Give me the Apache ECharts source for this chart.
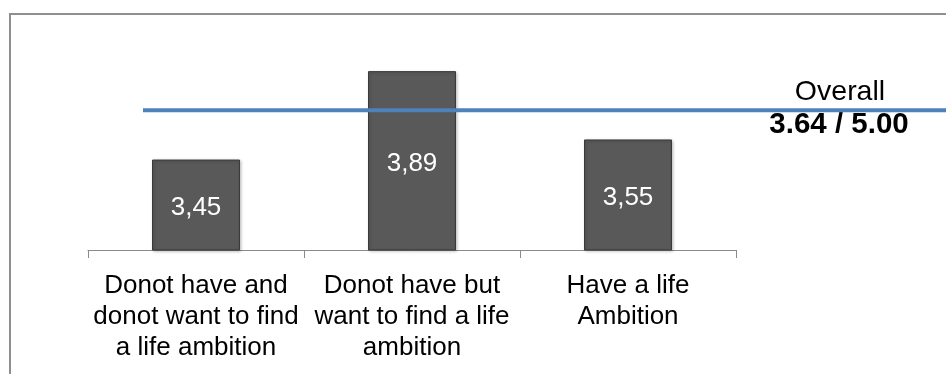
<!DOCTYPE html>
<html>
<head>
<meta charset="utf-8">
<script src="https://cdn.jsdelivr.net/npm/echarts@6/dist/echarts.min.js"></script>
<style>
  html, body { margin: 0; padding: 0; background: #fff; }
  #chart { width: 946px; height: 374px; }
</style>
</head>
<body>
<div id="chart"></div>
<script>
// 类别 / 数值
const categories = [
    "Donot have and\ndonot want to find\na life ambition",
    "Donot have but\nwant to find a life\nambition",
    "Have a life\nAmbition",
];
const scores = [3.45, 3.89, 3.55];
// 总体水平线（从图上读取的位置）和标注
const overallLineLevel = 3.695;
const overallScore = 3.64;
const maxScore = 5.0;

const fontFamily = "Arial, 'Liberation Sans', sans-serif";

const chart = echarts.init(document.getElementById("chart"), null, { renderer: "canvas" });

chart.setOption({
    animation: false,
    backgroundColor: "#fff",
    grid: [
        { left: 88, width: 648, top: 49, height: 201 },
        // 蓝线所在的网格，延伸到右边缘
        { left: 143, right: 0, top: 49, height: 201 },
    ],
    xAxis: [
        {
            type: "category",
            gridIndex: 0,
            data: categories,
            axisLine: { lineStyle: { color: "#8a8a8a", width: 1 } },
            axisTick: { show: true, length: 8, lineStyle: { color: "#8a8a8a" } },
            axisLabel: {
                color: "#000",
                fontFamily,
                fontSize: 26,
                lineHeight: 31,
                margin: 20,
                interval: 0,
                align: "center",
            },
        },
        { type: "value", gridIndex: 1, min: 0, max: 1, show: false },
    ],
    yAxis: [
        { type: "value", gridIndex: 0, min: 3, max: 4, show: false },
        { type: "value", gridIndex: 1, min: 3, max: 4, show: false },
    ],
    series: [
        {
            type: "bar",
            xAxisIndex: 0,
            yAxisIndex: 0,
            data: scores,
            barWidth: 88,
            itemStyle: {
                color: "#595959",
                borderColor: "#3a3a3a",
                borderWidth: 1,
                shadowColor: "rgba(0,0,0,0.25)",
                shadowBlur: 3,
                shadowOffsetX: 1,
                shadowOffsetY: 1,
            },
            label: {
                show: true,
                position: "inside",
                offset: [0, 3],
                color: "#fff",
                fontFamily,
                fontSize: 26,
                formatter: (p) => p.value.toFixed(2).replace(".", ","),
            },
        },
        {
            type: "line",
            xAxisIndex: 1,
            yAxisIndex: 1,
            data: [[0, overallLineLevel], [1, overallLineLevel]],
            symbol: "none",
            lineStyle: { color: "#4f81bd", width: 4 },
            z: 5,
        },
    ],
    graphic: [
        {
            type: "rect",
            shape: { x: 10, y: 14, width: 1000, height: 500 },
            style: { fill: "none", stroke: "#8f8f8f", lineWidth: 2 },
            silent: true,
            z: 0,
        },
        {
            type: "text",
            x: 840,
            y: 92,
            style: {
                text: "Overall",
                fill: "#000",
                font: "28.5px " + fontFamily,
                textAlign: "center",
                textVerticalAlign: "middle",
            },
        },
        {
            type: "text",
            x: 839,
            y: 125,
            style: {
                text: overallScore.toFixed(2) + " / " + maxScore.toFixed(2),
                fill: "#000",
                font: "bold 29.5px " + fontFamily,
                textAlign: "center",
                textVerticalAlign: "middle",
            },
        },
    ],
});
</script>
</body>
</html>
